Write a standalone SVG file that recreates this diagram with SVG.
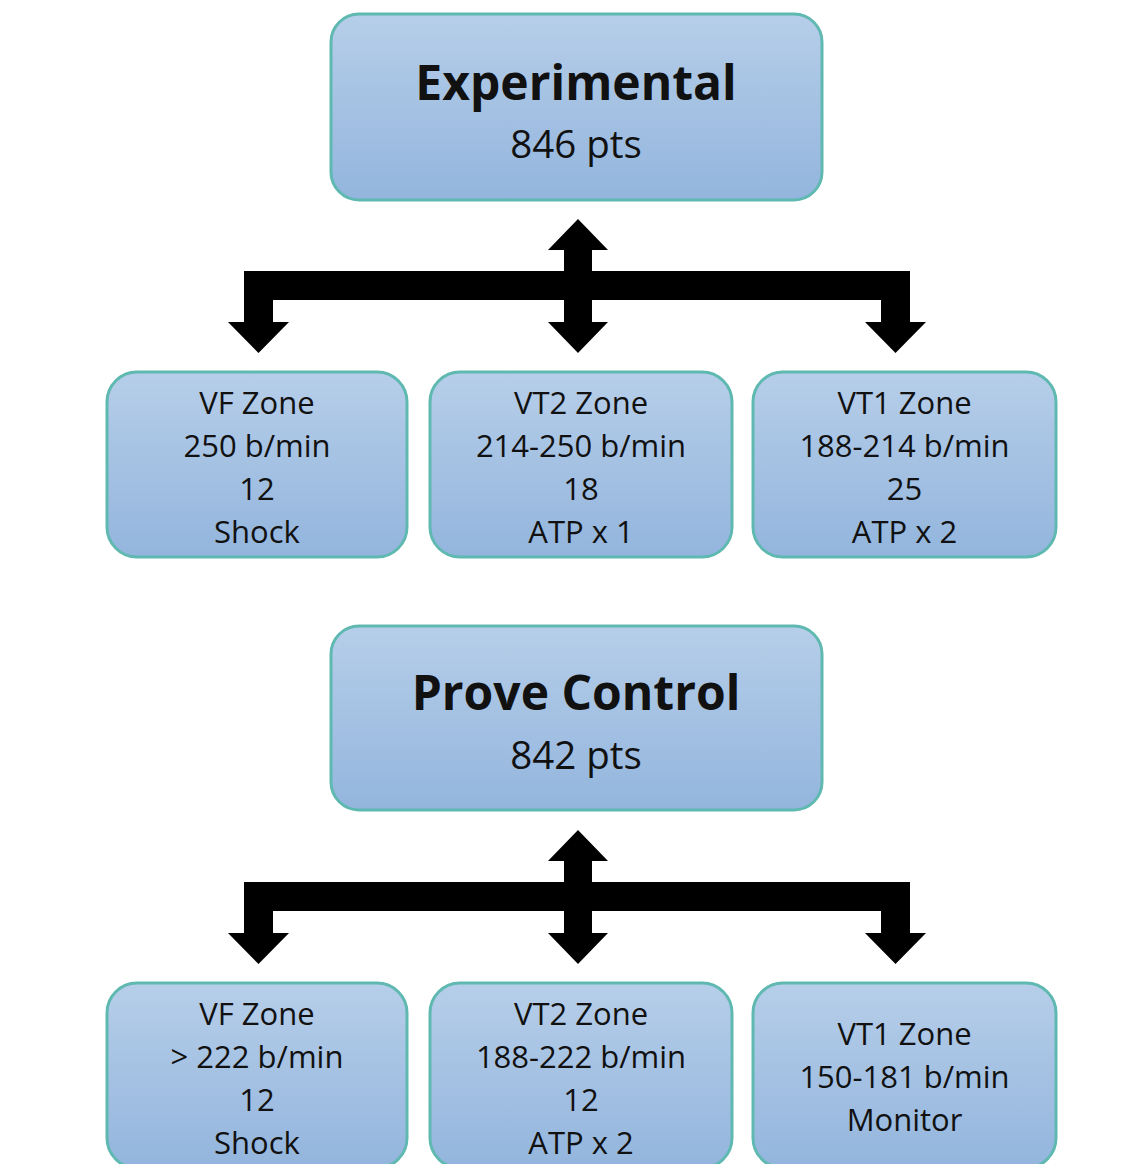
<svg xmlns="http://www.w3.org/2000/svg" width="1145" height="1164" viewBox="0 0 1145 1164">
<defs>
<linearGradient id="g" x1="0" y1="0" x2="0" y2="1">
<stop offset="0" stop-color="#b6cee9"/>
<stop offset="1" stop-color="#93b5dd"/>
</linearGradient>
<path id="arr" d="M244,271 H910 V322 H926 L895.5,353 L865,322 H881 V300 H592 V322 H608 L578,353 L548,322 H564 V300 H273 V322 H289 L258.5,353 L228,322 H244 Z M564,271 V250 H548 L578,219 L608,250 H592 V271 Z"/>
</defs>
<style>
.box{fill:url(#g);stroke:#5fb9b1;stroke-width:3}
.t{font-family:"Open Sans","DejaVu Sans",sans-serif;fill:#111;text-anchor:middle}
.h{font-size:48px;font-weight:bold}
.s{font-size:38.5px}
.z{font-size:31px}
</style>
<rect width="1145" height="1164" fill="#fff"/>
<g id="connectors" fill="#000">
<use href="#arr"/>
<use href="#arr" y="611"/>
</g>
<g id="experimental">
<rect class="box" x="331" y="14" width="491" height="186" rx="28"/>
<text class="t h" x="576" y="100">Experimental</text>
<text class="t s" x="576" y="158">846 pts</text>
</g>
<g id="exp-vf">
<rect class="box" x="107" y="372" width="300" height="185" rx="30"/>
<text class="t z" x="257" y="414">VF Zone</text>
<text class="t z" x="257" y="457">250 b/min</text>
<text class="t z" x="257" y="500">12</text>
<text class="t z" x="257" y="543">Shock</text>
</g>
<g id="exp-vt2">
<rect class="box" x="430" y="372" width="302" height="185" rx="30"/>
<text class="t z" x="581" y="414">VT2 Zone</text>
<text class="t z" x="581" y="457">214-250 b/min</text>
<text class="t z" x="581" y="500">18</text>
<text class="t z" x="581" y="543">ATP x 1</text>
</g>
<g id="exp-vt1">
<rect class="box" x="753" y="372" width="303" height="185" rx="30"/>
<text class="t z" x="904.5" y="414">VT1 Zone</text>
<text class="t z" x="904.5" y="457">188-214 b/min</text>
<text class="t z" x="904.5" y="500">25</text>
<text class="t z" x="904.5" y="543">ATP x 2</text>
</g>
<g id="control">
<rect class="box" x="331" y="626" width="491" height="184" rx="28"/>
<text class="t h" x="576" y="710">Prove Control</text>
<text class="t s" x="576" y="769">842 pts</text>
</g>
<g id="ctl-vf">
<rect class="box" x="107" y="983" width="300" height="185" rx="30"/>
<text class="t z" x="257" y="1025">VF Zone</text>
<text class="t z" x="257" y="1068">&gt; 222 b/min</text>
<text class="t z" x="257" y="1111">12</text>
<text class="t z" x="257" y="1154">Shock</text>
</g>
<g id="ctl-vt2">
<rect class="box" x="430" y="983" width="302" height="185" rx="30"/>
<text class="t z" x="581" y="1025">VT2 Zone</text>
<text class="t z" x="581" y="1068">188-222 b/min</text>
<text class="t z" x="581" y="1111">12</text>
<text class="t z" x="581" y="1154">ATP x 2</text>
</g>
<g id="ctl-vt1">
<rect class="box" x="753" y="983" width="303" height="185" rx="30"/>
<text class="t z" x="904.5" y="1045">VT1 Zone</text>
<text class="t z" x="904.5" y="1088">150-181 b/min</text>
<text class="t z" x="904.5" y="1131">Monitor</text>
</g>
</svg>
